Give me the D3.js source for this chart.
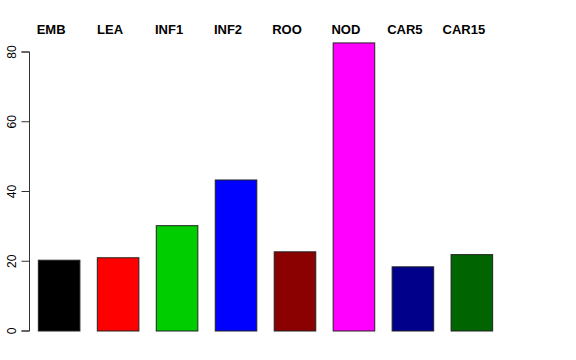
<!DOCTYPE html>
<html>
<head>
<meta charset="utf-8">
<script src="https://cdn.jsdelivr.net/npm/d3@7"></script>
<style>
  body { margin: 0; background: #fff; }
  svg { display: block; font-family: "Liberation Sans", Arial, sans-serif; }
</style>
</head>
<body>
<svg id="chart" width="576" height="360"></svg>
<script>
const stages = ['EMB', 'LEA', 'INF1', 'INF2', 'ROO', 'NOD', 'CAR5', 'CAR15'];
const values = [20.3, 21.0, 30.2, 43.3, 22.7, 82.6, 18.4, 21.9];
const barColors = ['#000000', '#ff0000', '#00cd00', '#0000ff', '#8b0000', '#ff00ff', '#00008b', '#006400'];
const yTicks = [0, 20, 40, 60, 80];

const svg = d3.select('#chart');

// plot region, bars start at 38.7 with a 59px period
const x = d3.scaleBand()
  .domain(stages)
  .range([29.5, 501.5])
  .paddingInner(0.295)
  .paddingOuter(0.15);

const y = d3.scaleLinear().domain([0, 80]).range([331, 52]);

const colors = d3.scaleOrdinal().domain(stages).range(barColors);

svg.append('g')
  .selectAll('rect')
  .data(values)
  .enter()
  .append('rect')
  .attr('x', (d, i) => x(stages[i]))
  .attr('y', d => y(d))
  .attr('width', x.bandwidth())
  .attr('height', d => y(0) - y(d))
  .attr('fill', (d, i) => colors(stages[i]))
  .attr('stroke', '#222')
  .attr('stroke-width', 1);

// stage labels across the top
svg.append('g')
  .selectAll('text')
  .data(stages)
  .enter()
  .append('text')
  .attr('x', d => x(d) + x.bandwidth() / 2 - 8)
  .attr('y', 34)
  .attr('text-anchor', 'middle')
  .attr('font-size', 13)
  .attr('font-weight', 'bold')
  .text(d => d);

// y axis, R style
const yAxis = d3.axisLeft(y).tickValues(yTicks).tickSize(8).tickPadding(0).tickFormat(d3.format('d'));
const ga = svg.append('g')
  .attr('transform', 'translate(29.5,0)')
  .call(yAxis);
ga.select('.domain').attr('d', `M-8,${y(80)}H0V${y(0)}H-8`).attr('stroke', '#333');
ga.selectAll('.tick line').attr('stroke', '#333');
ga.selectAll('.tick text')
  .attr('font-size', 12)
  .attr('fill', '#000')
  .attr('font-family', '"Liberation Sans", Arial, sans-serif')
  .attr('transform', d => `translate(-18,${y(d)}) rotate(-90)`)
  .attr('x', 0)
  .attr('y', 0)
  .attr('dy', '0.35em')
  .attr('text-anchor', 'middle');
ga.selectAll('.tick').attr('transform', null);
ga.selectAll('.tick line').attr('transform', d => `translate(0,${y(d)})`);
</script>
</body>
</html>
